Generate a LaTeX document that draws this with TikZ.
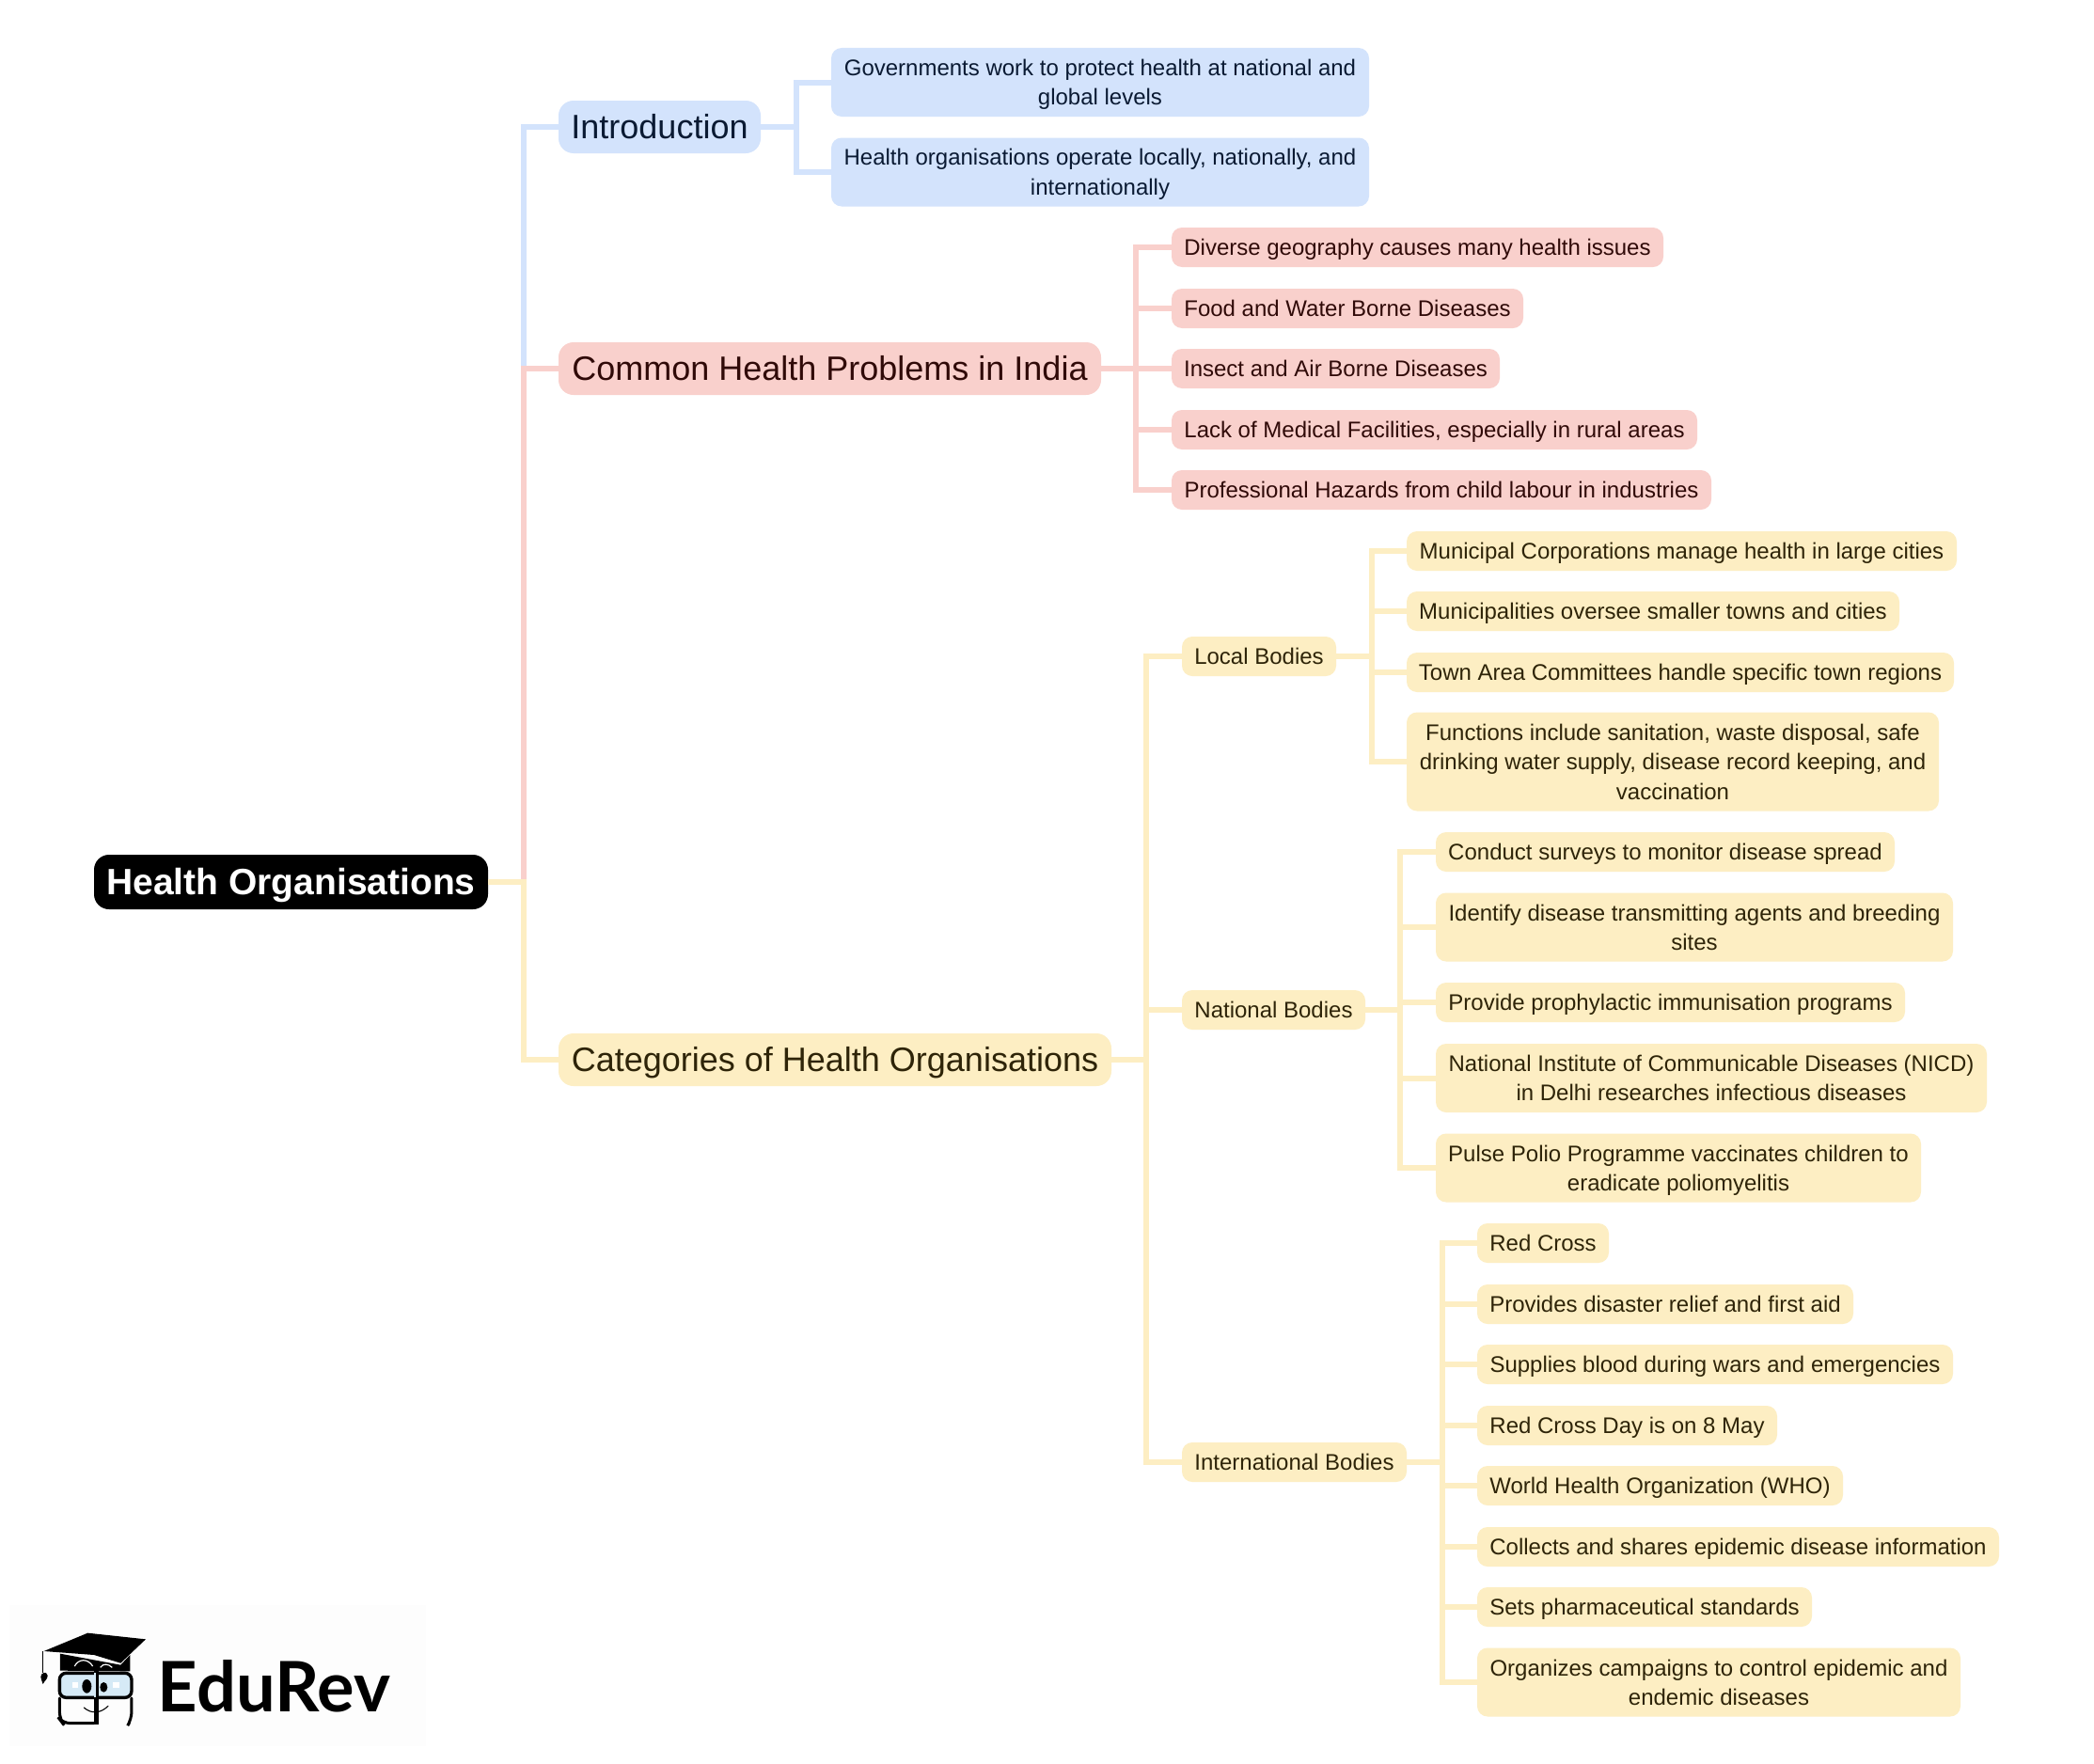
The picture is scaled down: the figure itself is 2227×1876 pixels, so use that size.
\documentclass[tikz,border=0pt]{standalone}
\usepackage{fontspec}
\setmainfont{Liberation Sans}
\newfontfamily\logofont{Lato}
\definecolor{bluefill}{HTML}{D3E3FC}
\definecolor{bluetext}{HTML}{0A1A33}
\definecolor{redfill}{HTML}{F9D0CC}
\definecolor{redtext}{HTML}{300A08}
\definecolor{yelfill}{HTML}{FDEEC3}
\definecolor{yeltext}{HTML}{2E2408}
\definecolor{glass}{HTML}{D6EAF6}
\definecolor{logobg}{HTML}{FDFDFD}
\newcommand{\vstrutH}[1]{\rule{0pt}{#1pt}}
\newcommand{\vstrutD}[1]{\rule[-#1pt]{0pt}{#1pt}}
\tikzset{
  x=1pt,y=-1pt,
  elbow/.style={to path={-- ++(#1,0) |- (\tikztotarget)}},
  conn/.style={line width=6pt,line join=miter},
  base/.style={outer sep=0pt,inner sep=0pt,align=center},
  leaf/.style={base,rounded corners=11pt,font=\fontsize{24}{31.4}\selectfont,
    execute at begin node=\vstrutH{24.6},execute at end node=\vstrutD{7.4}},
  multi/.style={text depth=0pt},
  head/.style={base,rounded corners=16pt,font=\fontsize{36}{44}\selectfont,
    execute at begin node=\vstrutH{32},execute at end node=\vstrutD{6.8}},
  rootbox/.style={base,fill=black,text=white,rounded corners=16pt,font=\fontsize{39}{44}\selectfont\bfseries,
    execute at begin node=\vstrutH{36},execute at end node=\vstrutD{7.4}},
  blue/.style={fill=bluefill,text=bluetext},
  red/.style={fill=redfill,text=redtext},
  yel/.style={fill=yelfill,text=yeltext},
  logoline/.style={draw=black,line width=3pt,line cap=round},
}
\newcommand{\mn}[7]{%
  \pgfmathsetmacro\mncx{(#3+#4)/2}\pgfmathsetmacro\mnw{#4-#3}%
  \node[#1,minimum width=\mnw pt,minimum height=#6pt] (#2) at (\mncx,#5) {#7};}
\begin{document}
\begin{tikzpicture}
\useasboundingbox (0,0) rectangle (2227,1876);
\fill[white] (0,0) rectangle (2227,1876);
% root and headings
\mn{rootbox}{root}{100}{519}{938}{58}{Health Organisations}
\mn{head,blue}{intro}{594}{809}{135}{56}{Introduction}
\mn{head,red}{common}{594}{1171}{392}{56}{Common Health Problems in India}
\mn{head,yel}{cats}{594}{1182}{1127}{56}{Categories of Health Organisations}
% blue
\mn{leaf,multi,blue}{b1}{884}{1456}{87.5}{73}{Governments work to protect health at national and\\global levels}
\mn{leaf,multi,blue}{b2}{884}{1456}{183}{73}{Health organisations operate locally, nationally, and\\internationally}
% red
\mn{leaf,red}{r1}{1246}{1769}{263}{42}{Diverse geography causes many health issues}
\mn{leaf,red}{r2}{1246}{1620}{328}{42}{Food and Water Borne Diseases}
\mn{leaf,red}{r3}{1246}{1595}{392}{42}{Insect and Air Borne Diseases}
\mn{leaf,red}{r4}{1246}{1805}{457}{42}{Lack of Medical Facilities, especially in rural areas}
\mn{leaf,red}{r5}{1246}{1820}{521}{42}{Professional Hazards from child labour in industries}
% yellow level 2
\mn{leaf,yel}{local}{1257}{1421}{698}{42}{Local Bodies}
\mn{leaf,yel}{natl}{1257}{1452}{1074}{42}{National Bodies}
\mn{leaf,yel}{intl}{1257}{1496}{1555}{42}{International Bodies}
% local
\mn{leaf,yel}{l1}{1496}{2081}{586}{42}{Municipal Corporations manage health in large cities}
\mn{leaf,yel}{l2}{1496}{2020}{650}{42}{Municipalities oversee smaller towns and cities}
\mn{leaf,yel}{l3}{1496}{2078}{715}{42}{Town Area Committees handle specific town regions}
\mn{leaf,multi,yel}{l4}{1496}{2062}{810}{105}{Functions include sanitation, waste disposal, safe\\drinking water supply, disease record keeping, and\\vaccination}
% national
\mn{leaf,yel}{n1}{1527}{2015}{906}{42}{Conduct surveys to monitor disease spread}
\mn{leaf,multi,yel}{n2}{1527}{2077}{986}{73}{Identify disease transmitting agents and breeding\\sites}
\mn{leaf,yel}{n3}{1527}{2026}{1066}{42}{Provide prophylactic immunisation programs}
\mn{leaf,multi,yel}{n4}{1527}{2113}{1146.5}{73}{National Institute of Communicable Diseases (NICD)\\in Delhi researches infectious diseases}
\mn{leaf,multi,yel}{n5}{1527}{2043}{1242}{73}{Pulse Polio Programme vaccinates children to\\eradicate poliomyelitis}
% international
\mn{leaf,yel}{i1}{1571}{1711}{1322}{42}{Red Cross}
\mn{leaf,yel}{i2}{1571}{1971}{1387}{42}{Provides disaster relief and first aid}
\mn{leaf,yel}{i3}{1571}{2077}{1451}{42}{Supplies blood during wars and emergencies}
\mn{leaf,yel}{i4}{1571}{1890}{1516}{42}{Red Cross Day is on 8 May}
\mn{leaf,yel}{i5}{1571}{1960}{1580}{42}{World Health Organization (WHO)}
\mn{leaf,yel}{i6}{1571}{2126}{1645}{42}{Collects and shares epidemic disease information}
\mn{leaf,yel}{i7}{1571}{1927}{1709}{42}{Sets pharmaceutical standards}
\mn{leaf,multi,yel}{i8}{1571}{2085}{1789}{73}{Organizes campaigns to control epidemic and\\endemic diseases}
% connectors
\begin{scope}[conn,draw=bluefill]
  \draw (root.east) to[elbow=38] (intro.west);
  \draw (intro.east) to[elbow=38] (b1.west);
  \draw (intro.east) to[elbow=38] (b2.west);
\end{scope}
\begin{scope}[conn,draw=redfill]
  \draw (root.east) to[elbow=38] (common.west);
  \foreach \c in {r1,r2,r3,r4,r5}{\draw (common.east) to[elbow=37] (\c.west);}
\end{scope}
\begin{scope}[conn,draw=yelfill]
  \draw (root.east) to[elbow=38] (cats.west);
  \foreach \c in {local,natl,intl}{\draw (cats.east) to[elbow=37] (\c.west);}
  \foreach \c in {l1,l2,l3,l4}{\draw (local.east) to[elbow=38] (\c.west);}
  \foreach \c in {n1,n2,n3,n4,n5}{\draw (natl.east) to[elbow=37] (\c.west);}
  \foreach \c in {i1,i2,i3,i4,i5,i6,i7,i8}{\draw (intl.east) to[elbow=38] (\c.west);}
\end{scope}
% logo
\begin{scope}[shift={(0,1680)},x=0.3333pt,y=-0.3333pt]
  \fill[logobg] (30,80) rectangle (1360,530);
  % cap
  \fill (192,236) -- (385,272) -- (415,240) -- (415,292) -- (192,290) -- cycle;
  \draw[white,line width=1.2pt] (238,276) .. controls (250,252) and (280,250) .. (296,276);
  \draw[white,line width=1.2pt] (320,280) .. controls (330,266) and (345,268) .. (358,280);
  \fill (140,228) -- (280,170) -- (465,190) -- (385,266) -- (300,240) -- cycle;
  \draw[line width=1pt] (138,228) -- (138,296);
  \fill (130,310) .. controls (130,296) and (150,290) .. (152,306) .. controls (152,318) and (142,322) .. (137,333) .. controls (134,322) and (130,318) .. (130,310) -- cycle;
  % glasses
  \draw[fill=glass,line width=3.4pt,rounded corners=7pt] (190,298) rectangle (420,376);
  % lower face
  \draw[logoline,rounded corners=8pt] (300,458) -- (200,458) -- (190,445) -- (190,378);
  \draw[logoline,rounded corners=8pt] (420,378) -- (420,445) -- (412,458);
  \fill (301,290) rectangle (315,462);
  \fill[glass] (301,298) rectangle (307,376);
  % eyes
  \fill (277,340) ellipse [x radius=15,y radius=22];
  \fill (331,343) ellipse [x radius=12,y radius=16];
  \fill[white] (232,328) rectangle (250,346);
  \fill[white] (360,328) rectangle (380,346);
  % smile
  \draw[line width=1.1pt,line cap=round] (268,408) .. controls (290,428) and (320,428) .. (345,403);
  % wordmark
  \node[anchor=base west,inner sep=0pt,outer sep=0pt,font=\fontsize{74}{74}\selectfont\logofont\bfseries] (logo) at (504,420) {EduRev};
\end{scope}
\end{tikzpicture}
\end{document}
